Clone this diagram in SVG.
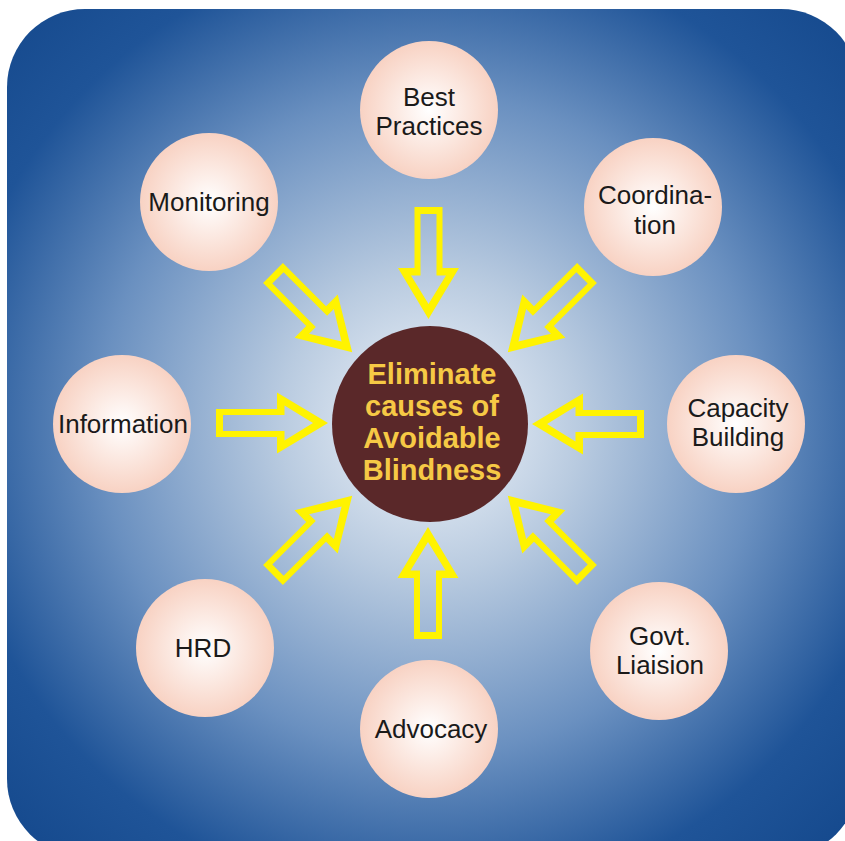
<svg xmlns="http://www.w3.org/2000/svg" width="845" height="841" viewBox="0 0 845 841">
  <defs>
    <radialGradient id="bg" cx="430" cy="424" r="600" gradientUnits="userSpaceOnUse">
      <stop offset="0" stop-color="#f2f6fb"/>
      <stop offset="0.25" stop-color="#b9cbe0"/>
      <stop offset="0.55" stop-color="#6a90c0"/>
      <stop offset="0.8" stop-color="#1f5498"/>
      <stop offset="1" stop-color="#14488c"/>
    </radialGradient>
    <radialGradient id="node" cx="0.5" cy="0.5" r="0.5">
      <stop offset="0" stop-color="#ffffff"/>
      <stop offset="1" stop-color="#f8d2c3"/>
    </radialGradient>
    <path id="arrow" fill-rule="evenodd" d="M0,-14 L61,-14 L61,-30.5 L112,0 L61,30.5 L61,14 L0,14 Z M7,-8 L7,8 L68.5,8 L68.5,17.5 L97,0 L68.5,-17.5 L68.5,-8 Z"/>
  </defs>
  <style>
    .arr { fill: #fff300; }
    .node circle { fill: url(#node); }
    .node text { font-family: "Liberation Sans", Arial, sans-serif; font-size: 26px; fill: #1a1a1a; text-anchor: middle; }
    .center text { font-family: "Liberation Sans", Arial, sans-serif; font-size: 29px; font-weight: bold; fill: #f6c945; text-anchor: middle; }
  </style>
  <rect x="7" y="9" width="852" height="848" rx="78" ry="78" fill="url(#bg)"/>

  <g id="connectors">
    <use href="#arrow" class="arr" transform="translate(428.5,207) rotate(90)"/>
    <use href="#arrow" class="arr" transform="translate(428,639) rotate(-90)"/>
    <use href="#arrow" class="arr" transform="translate(216,423) rotate(0)"/>
    <use href="#arrow" class="arr" transform="translate(644,424) rotate(180)"/>
    <use href="#arrow" class="arr" transform="translate(273,273) rotate(45)"/>
    <use href="#arrow" class="arr" transform="translate(587,273) rotate(135)"/>
    <use href="#arrow" class="arr" transform="translate(273,575) rotate(-45)"/>
    <use href="#arrow" class="arr" transform="translate(587,575) rotate(-135)"/>
  </g>

  <g id="center" class="center">
    <circle cx="430" cy="424" r="98" fill="#5a2829"/>
    <text x="432" y="384">Eliminate</text>
    <text x="432" y="416">causes of</text>
    <text x="432" y="448">Avoidable</text>
    <text x="432" y="480">Blindness</text>
  </g>

  <g id="best-practices" class="node">
    <circle cx="429" cy="110" r="69"/>
    <text x="429" y="106">Best</text>
    <text x="429" y="135">Practices</text>
  </g>
  <g id="coordination" class="node">
    <circle cx="653" cy="207" r="69"/>
    <text x="655" y="204">Coordina-</text>
    <text x="655" y="234">tion</text>
  </g>
  <g id="capacity-building" class="node">
    <circle cx="736" cy="424" r="69"/>
    <text x="738" y="417">Capacity</text>
    <text x="738" y="446">Building</text>
  </g>
  <g id="govt-liaision" class="node">
    <circle cx="659" cy="651" r="69"/>
    <text x="660" y="645">Govt.</text>
    <text x="660" y="674">Liaision</text>
  </g>
  <g id="advocacy" class="node">
    <circle cx="429" cy="729" r="69"/>
    <text x="431" y="738">Advocacy</text>
  </g>
  <g id="hrd" class="node">
    <circle cx="205" cy="648" r="69"/>
    <text x="203" y="657">HRD</text>
  </g>
  <g id="information" class="node">
    <circle cx="122" cy="424" r="69"/>
    <text x="123" y="433">Information</text>
  </g>
  <g id="monitoring" class="node">
    <circle cx="209" cy="202" r="69"/>
    <text x="209" y="211">Monitoring</text>
  </g>
</svg>
